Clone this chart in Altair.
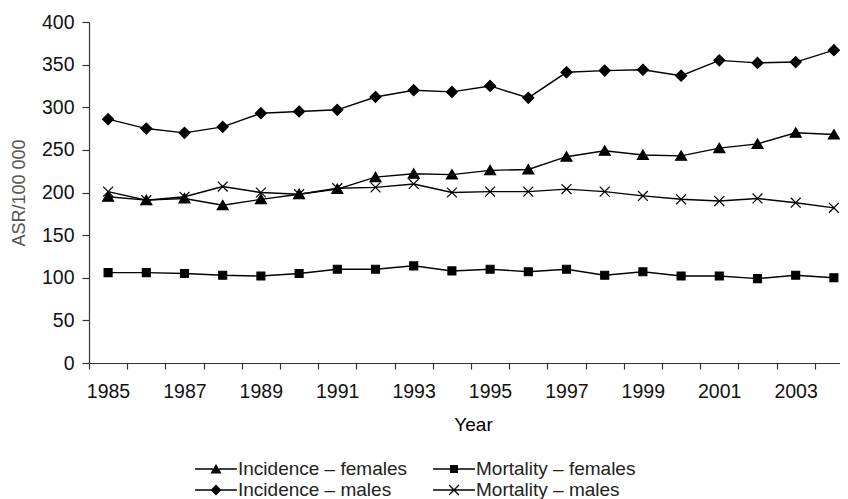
import altair as alt
import pandas as pd

years = list(range(1985, 2005))
incidence_females = [195, 191, 193, 185, 192, 198, 204, 218, 222, 221, 226, 227, 242, 249, 244, 243, 252, 257, 270, 268]
incidence_males = [286, 275, 270, 277, 293, 295, 297, 312, 320, 318, 325, 311, 341, 343, 344, 337, 355, 352, 353, 367]
mortality_females = [106, 106, 105, 103, 102, 105, 110, 110, 114, 108, 110, 107, 110, 103, 107, 102, 102, 99, 103, 100]
mortality_males = [201, 191, 195, 207, 200, 198, 205, 206, 210, 200, 201, 201, 204, 201, 196, 192, 190, 193, 188, 182]

# column-major legend order: column 1 = incidence, column 2 = mortality
series_names = ["Incidence – females", "Incidence – males", "Mortality – females", "Mortality – males"]
series_values = [incidence_females, incidence_males, mortality_females, mortality_males]
y_ticks = [0, 50, 100, 150, 200, 250, 300, 350, 400]

rows = []
for name, vals in zip(series_names, series_values):
    for yr, v in zip(years, vals):
        rows.append({"year": yr, "value": v, "series": name})
df = pd.DataFrame(rows)

marker_paths = [
    "M0,-0.9L1,0.8L-1,0.8Z",
    "M0,-1L1,0L0,1L-1,0Z",
    "M-0.72,-0.72L0.72,-0.72L0.72,0.72L-0.72,0.72Z",
    "M-0.9,-0.9L0.9,0.9M-0.9,0.9L0.9,-0.9",
]
# legend symbols: a short line with the marker on it, drawn as filled shapes
LINE = "M-1.9,-0.06L1.9,-0.06L1.9,0.06L-1.9,0.06Z"
legend_paths = [
    LINE + "M0,-0.45L0.5,0.4L-0.5,0.4Z",
    LINE + "M0,-0.5L0.5,0L0,0.5L-0.5,0Z",
    LINE + "M-0.36,-0.36L0.36,-0.36L0.36,0.36L-0.36,0.36Z",
    LINE
    + "M-0.408,-0.492L0.492,0.408L0.408,0.492L-0.492,-0.408Z"
    + "M0.408,-0.492L0.492,-0.408L-0.408,0.492L-0.492,0.408Z",
]

FONT = "Liberation Sans"
W, H = 751, 341

x_enc = alt.X(
    "year:Q",
    scale=alt.Scale(domain=[1984.5, 1984.5 + W / 38.2], nice=False, zero=False),
    axis=alt.Axis(
        values=[y - 0.5 for y in years],
        labelExpr="(datum.value + 0.5) % 2 == 1 ? '' + (datum.value + 0.5) : ''",
        labelOffset=19,
        tickSize=6,
        labelPadding=13,
        labelFontSize=19.5,
        grid=False,
        title="Year",
        titlePadding=15,
        titleX=384,
        labelOverlap=False,
        labelBound=False,
        labelFlush=False,
    ),
)
y_enc = alt.Y(
    "value:Q",
    scale=alt.Scale(domain=[0, 400], nice=False),
    axis=alt.Axis(
        values=y_ticks,
        tickSize=7,
        labelPadding=8,
        labelFontSize=19.5,
        grid=False,
        title="ASR/100 000",
        titleColor="#555555",
        titleFontSize=18,
        titlePadding=13,
    ),
)

base = alt.Chart(df).encode(x=x_enc, y=y_enc)

lines = base.mark_line(color="black", strokeWidth=1.4).encode(detail="series:N")

points = base.mark_point(
    filled=True, fill="black", stroke="black", strokeWidth=1.2, opacity=1, size=121
).encode(
    shape=alt.Shape("series:N", scale=alt.Scale(domain=series_names, range=marker_paths), legend=None)
)

legend_layer = base.mark_point(
    filled=True, color="black", opacity=1
).encode(
    shape=alt.Shape(
        "series:N",
        scale=alt.Scale(domain=series_names, range=legend_paths),
        legend=alt.Legend(
            title=None,
            orient="none",
            legendX=116,
            legendY=436,
            columns=2,
            columnPadding=26,
            rowPadding=0,
            symbolSize=484,
            symbolFillColor="black",
            symbolStrokeWidth=0,
            symbolOpacity=1,
            labelOffset=11,
            labelFontSize=19,
            labelFont=FONT,
            labelColor="#222222",
            labelLimit=400,
        ),
    ),
).transform_filter("datum.value < 0")

chart = (
    alt.layer(lines, points, legend_layer)
    .resolve_scale(shape="independent")
    .properties(
        width=W,
        height=H,
        autosize=alt.AutoSizeParams(type="none"),
        padding={"left": 81, "top": 14, "right": 0, "bottom": 136},
        background="white",
    )
    .configure_view(stroke=None)
    .configure_axis(
        labelFont=FONT,
        titleFont=FONT,
        titleFontSize=19,
        titleFontWeight="normal",
        labelColor="#111111",
        domainColor="#333333",
        tickColor="#333333",
        domainWidth=1.2,
        tickWidth=1.2,
    )
)

chart.save("out.html", embed_options={"renderer": "svg", "actions": False})
